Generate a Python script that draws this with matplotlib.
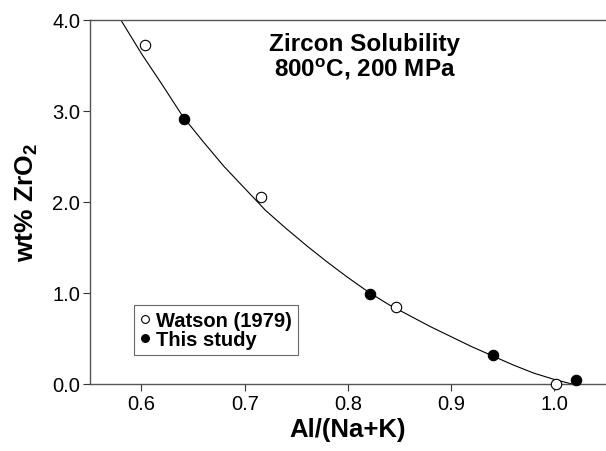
import matplotlib
matplotlib.use("Agg")
import matplotlib.pyplot as plt

# measured points
watson_x = [0.603, 0.716, 0.847, 1.002]
watson_y = [3.73, 2.06, 0.85, 0.00]
study_x = [0.641, 0.821, 0.941, 1.021]
study_y = [2.91, 0.99, 0.32, 0.04]

# fitted curve
curve_x = [0.580, 0.60, 0.62, 0.64, 0.66, 0.68, 0.70, 0.72, 0.74, 0.76, 0.78,
           0.80, 0.82, 0.84, 0.86, 0.88, 0.90, 0.92, 0.94, 0.96, 0.98, 1.00, 1.017]
curve_y = [4.00, 3.63, 3.29, 2.94, 2.66, 2.39, 2.15, 1.91, 1.71, 1.52, 1.34,
           1.17, 1.01, 0.87, 0.75, 0.63, 0.52, 0.41, 0.31, 0.21, 0.12, 0.05, 0.00]

x_ticks = [0.6, 0.7, 0.8, 0.9, 1.0]
y_ticks = [0.0, 1.0, 2.0, 3.0, 4.0]

plt.rcParams["font.family"] = ["Liberation Sans", "DejaVu Sans"]
plt.rcParams["mathtext.fontset"] = "custom"
plt.rcParams["mathtext.rm"] = "Liberation Sans"
plt.rcParams["mathtext.bf"] = "Liberation Sans:bold"

fig = plt.figure(figsize=(6.06, 4.52), dpi=100)
ax = fig.add_axes([89.9 / 606, 67 / 452, 516 / 606, 364 / 452])

ax.plot(curve_x, curve_y, color="black", lw=0.8, zorder=2)
ax.plot(watson_x, watson_y, "o", ms=7.5, mfc="white", mec="black", mew=0.8,
        label="Watson (1979)", zorder=3, clip_on=False)
ax.plot(study_x, study_y, "o", ms=7.5, mfc="black", mec="black", mew=0.8,
        label="This study", zorder=3, clip_on=False)

ax.set_xlim(0.55, 1.05)
ax.set_ylim(0, 4.0)
ax.set_xticks(x_ticks)
ax.set_xticklabels([f"{v:.1f}" for v in x_ticks])
ax.set_yticks(y_ticks)
ax.set_yticklabels([f"{v:.1f}" for v in y_ticks])
ax.tick_params(direction="out", length=5, width=0.8, colors="#333333",
               labelsize=14.5, labelcolor="black", pad=2)

for side in ["left", "bottom", "top"]:
    ax.spines[side].set_color("#555555")
    ax.spines[side].set_linewidth(1.0)
ax.spines["right"].set_visible(False)

ax.set_xlabel("Al/(Na+K)", fontsize=18.5, fontweight="bold", labelpad=3)
ax.set_ylabel(r"wt% ZrO$_\mathbf{2}$", fontsize=19, fontweight="bold", labelpad=9)

ax.text(0.533, 0.90, "Zircon Solubility\n" + r"800$^\mathbf{o}$C, 200 MPa",
        transform=ax.transAxes, ha="center", va="center",
        fontsize=17.5, fontweight="bold", linespacing=1.0)

leg = ax.legend(loc="lower left", bbox_to_anchor=(0.0855, 0.08), borderaxespad=0,
                prop={"weight": "bold", "size": 14.5}, frameon=True,
                fancybox=False, handlelength=0.5, handletextpad=0.3,
                borderpad=0.3, labelspacing=0.0, markerscale=0.75)
leg.get_frame().set_edgecolor("#444444")
leg.get_frame().set_linewidth(0.8)

fig.savefig("out.png", dpi=100)
